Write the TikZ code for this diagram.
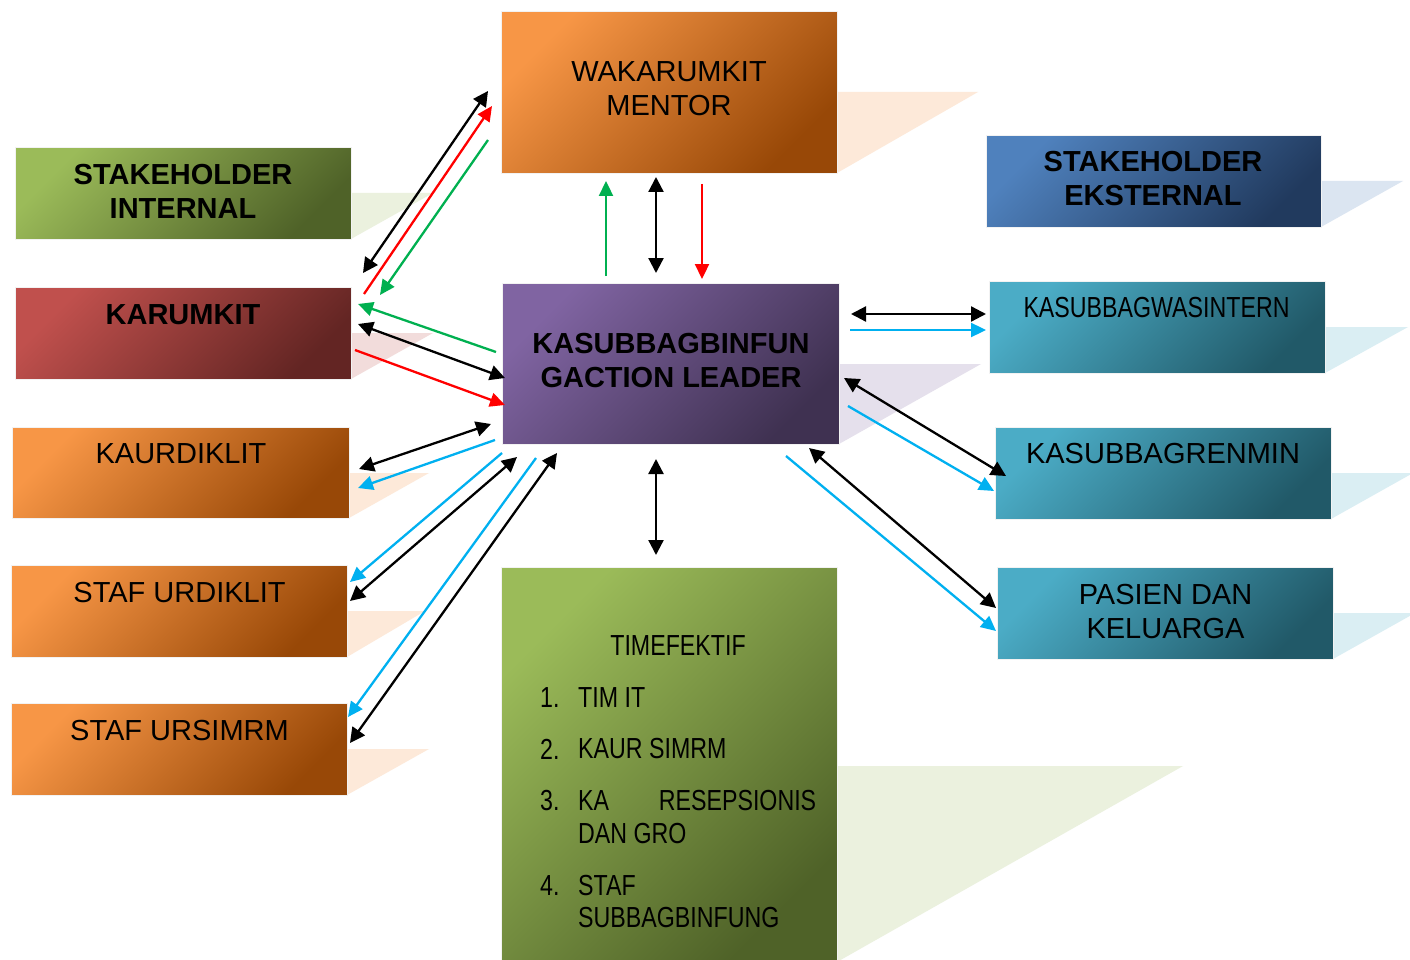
\documentclass[tikz,border=0pt]{standalone}
\usepackage{fontspec}
\setmainfont{Liberation Sans}
\newfontfamily\narrowsans[FakeStretch=0.8]{Liberation Sans}
\usetikzlibrary{arrows.meta}

% box fills: light / dark ends of the diagonal gradient
\definecolor{orL}{HTML}{F79646}\definecolor{orD}{HTML}{984807}
\definecolor{grL}{HTML}{9BBB59}\definecolor{grD}{HTML}{4F6228}
\definecolor{rdL}{HTML}{C0504D}\definecolor{rdD}{HTML}{632523}
\definecolor{puL}{HTML}{8064A2}\definecolor{puD}{HTML}{3F3151}
\definecolor{blL}{HTML}{4F81BD}\definecolor{blD}{HTML}{213A5E}
\definecolor{tlL}{HTML}{4BACC6}\definecolor{tlD}{HTML}{215968}
% floor shadows
\definecolor{orS}{HTML}{FDE9D9}\definecolor{grS}{HTML}{EBF1DE}
\definecolor{rdS}{HTML}{F2DCDB}\definecolor{puS}{HTML}{E5E0EC}
\definecolor{blS}{HTML}{DBE5F1}\definecolor{tlS}{HTML}{DAEEF3}
% connectors
\definecolor{arGreen}{HTML}{00B050}
\definecolor{arRed}{HTML}{FF0000}
\definecolor{arBlue}{HTML}{00B0F0}

\tikzset{
  box/.style 2 args={rectangle, draw=black!5, line width=1.2pt, inner sep=0pt,
    anchor=north west, top color=#1, bottom color=#2, shading angle=45},
  txt/.style={font=\fontsize{29}{34}\selectfont, align=center, inner sep=0pt},
  btxt/.style={font=\fontsize{29}{34}\selectfont\bfseries, align=center, inner sep=0pt},
  ntxt/.style={font=\fontsize{29}{34}\selectfont\narrowsans, inner sep=0pt},
  link/.style={line width=2.3pt, draw=#1},
  oneway/.style={link=#1, -{Triangle[length=15pt,width=14pt]}},
  twoway/.style={link=black, {Triangle[length=15pt,width=15pt]}-{Triangle[length=15pt,width=15pt]}},
}

\begin{document}
\begin{tikzpicture}[x=1pt,y=-1pt]
\clip (0,0) rectangle (1410,960);
\fill[white] (0,0) rectangle (1410,960);

% shadows lying behind each box
\fill[orS] (837,92) -- (978,92) -- (837,173) -- cycle;
\fill[grS] (351,193) -- (433,193) -- (351,239) -- cycle;
\fill[rdS] (351,333) -- (433,333) -- (351,379) -- cycle;
\fill[orS] (349,473) -- (429,473) -- (349,518) -- cycle;
\fill[orS] (347,611) -- (425,611) -- (347,657) -- cycle;
\fill[orS] (347,749) -- (429,749) -- (347,795) -- cycle;
\fill[puS] (839,364) -- (981,364) -- (839,444) -- cycle;
\fill[grS] (837,766) -- (1183,766) -- (837,962) -- cycle;
\fill[blS] (1321,181) -- (1403,181) -- (1321,227) -- cycle;
\fill[tlS] (1325,327) -- (1408,327) -- (1325,373) -- cycle;
\fill[tlS] (1331,473) -- (1413,473) -- (1331,519) -- cycle;
\fill[tlS] (1333,613) -- (1415,613) -- (1333,659) -- cycle;

% boxes
\node[box={orL}{orD}, minimum width=336pt, minimum height=162pt] (waka) at (501,11) {};
\node[box={grL}{grD}, minimum width=336pt, minimum height=92pt] (stint) at (15,147) {};
\node[box={rdL}{rdD}, minimum width=336pt, minimum height=92pt] (karu) at (15,287) {};
\node[box={orL}{orD}, minimum width=337pt, minimum height=91pt] (kaur) at (12,427) {};
\node[box={orL}{orD}, minimum width=336pt, minimum height=92pt] (sturd) at (11,565) {};
\node[box={orL}{orD}, minimum width=336pt, minimum height=92pt] (stusi) at (11,703) {};
\node[box={puL}{puD}, minimum width=337pt, minimum height=161pt] (lead) at (502,283) {};
\node[box={grL}{grD}, minimum width=336pt, minimum height=394pt] (team) at (501,567) {};
\node[box={blL}{blD}, minimum width=335pt, minimum height=92pt] (stek) at (986,135) {};
\node[box={tlL}{tlD}, minimum width=336pt, minimum height=92pt] (wasi) at (989,281) {};
\node[box={tlL}{tlD}, minimum width=336pt, minimum height=92pt] (renm) at (995,427) {};
\node[box={tlL}{tlD}, minimum width=336pt, minimum height=92pt] (pasi) at (997,567) {};

% connector end points
\coordinate (k1) at (363,273); \coordinate (w1) at (488,91);
\coordinate (k2) at (364,294); \coordinate (w2) at (492,106);
\coordinate (w3) at (488,140); \coordinate (k3) at (380,295);
\coordinate (c4) at (606,276); \coordinate (w4) at (606,181);
\coordinate (c5) at (656,273); \coordinate (w5) at (656,177);
\coordinate (w6) at (702,184); \coordinate (c6) at (702,279);
\coordinate (c7) at (496,352); \coordinate (k7) at (358,304);
\coordinate (k8) at (358,324); \coordinate (c8) at (505,378);
\coordinate (k9) at (355,350); \coordinate (c9) at (505,405);
\coordinate (d10) at (359,469); \coordinate (c10) at (491,424);
\coordinate (c11) at (495,440); \coordinate (d11) at (358,488);
\coordinate (c12) at (502,453); \coordinate (u12) at (350,582);
\coordinate (u13) at (350,601); \coordinate (c13) at (517,457);
\coordinate (c14) at (536,458); \coordinate (s14) at (348,717);
\coordinate (s15) at (350,743); \coordinate (c15) at (557,453);
\coordinate (c16) at (656,459); \coordinate (t16) at (656,555);
\coordinate (c17) at (851,314); \coordinate (i17) at (986,314);
\coordinate (c18) at (850,330); \coordinate (i18) at (986,330);
\coordinate (c19) at (844,378); \coordinate (r19) at (1006,476);
\coordinate (c20) at (848,406); \coordinate (r20) at (994,491);
\coordinate (c21) at (809,448); \coordinate (p21) at (996,608);
\coordinate (c22) at (786,456); \coordinate (p22) at (996,631);

% KARUMKIT <-> WAKARUMKIT
\draw[twoway] (k1) -- (w1);
\draw[oneway=arRed] (k2) -- (w2);
\draw[oneway=arGreen] (w3) -- (k3);
% leader <-> WAKARUMKIT
\draw[oneway=arGreen] (c4) -- (w4);
\draw[twoway] (c5) -- (w5);
\draw[oneway=arRed] (w6) -- (c6);
% leader <-> KARUMKIT
\draw[oneway=arGreen] (c7) -- (k7);
\draw[twoway] (k8) -- (c8);
\draw[oneway=arRed] (k9) -- (c9);
% leader <-> staff boxes on the left
\draw[twoway] (d10) -- (c10);
\draw[oneway=arBlue] (c11) -- (d11);
\draw[oneway=arBlue] (c12) -- (u12);
\draw[twoway] (u13) -- (c13);
\draw[oneway=arBlue] (c14) -- (s14);
\draw[twoway] (s15) -- (c15);
% leader <-> team
\draw[twoway] (c16) -- (t16);
% leader <-> boxes on the right
\draw[twoway] (c17) -- (i17);
\draw[oneway=arBlue] (c18) -- (i18);
\draw[twoway] (c19) -- (r19);
\draw[oneway=arBlue] (c20) -- (r20);
\draw[twoway] (c21) -- (p21);
\draw[oneway=arBlue] (c22) -- (p22);

% labels
\node[txt] (wakaT) at (669,88.5) {WAKARUMKIT\\MENTOR};
\node[btxt] (stintT) at (183,191) {STAKEHOLDER\\INTERNAL};
\node[btxt] (karuT) at (183,315) {KARUMKIT};
\node[txt] (kaurT) at (181,454) {KAURDIKLIT};
\node[txt] (sturdT) at (179.5,593) {STAF URDIKLIT};
\node[txt] (stusiT) at (179.5,731) {STAF URSIMRM};
\node[btxt] (leadT) at (671,361) {KASUBBAGBINFUN\\GACTION LEADER};
\node[btxt] (stekT) at (1153,179) {STAKEHOLDER\\EKSTERNAL};
\node[ntxt] (wasiT) at (1156.5,308) {KASUBBAGWASINTERN};
\node[txt] (renmT) at (1163,454) {KASUBBAGRENMIN};
\node[txt] (pasiT) at (1165.5,612) {PASIEN DAN\\KELUARGA};

% team list
\node[ntxt] (teamT) at (678,646) {TIMEFEKTIF};
\node[ntxt, anchor=west] (n1) at (540,698) {1.};
\node[ntxt, anchor=west] (i1) at (578,698) {TIM IT};
\node[ntxt, anchor=west] (n2) at (540,749) {2.};
\node[ntxt, anchor=west] (i2) at (578,749) {KAUR SIMRM};
\node[ntxt, anchor=west] (n3) at (540,801) {3.};
\node[ntxt, anchor=west] (i3) at (578,801) {\makebox[238pt]{KA\hfill RESEPSIONIS}};
\node[ntxt, anchor=west] (i3b) at (578,834) {DAN GRO};
\node[ntxt, anchor=west] (n4) at (540,886) {4.};
\node[ntxt, anchor=west] (i4) at (578,886) {STAF};
\node[ntxt, anchor=west] (i4b) at (578,918) {SUBBAGBINFUNG};
\end{tikzpicture}
\end{document}
